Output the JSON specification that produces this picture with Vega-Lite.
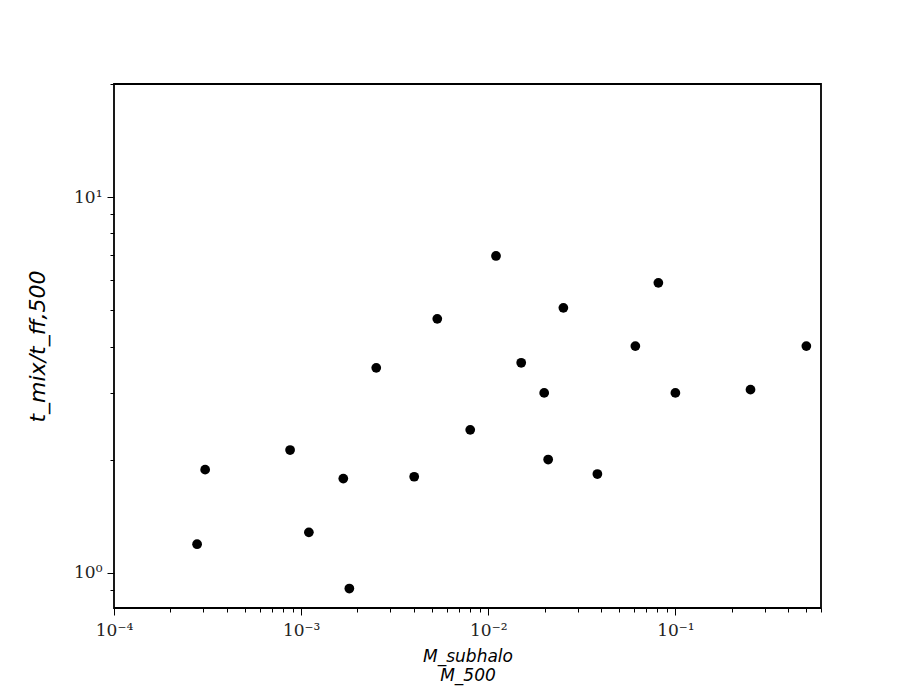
{
  "$schema": "https://vega.github.io/schema/vega-lite/v6.json",
  "width": 707,
  "height": 524,
  "autosize": {"type": "none"},
  "padding": {"left": 114, "top": 84, "right": 91, "bottom": 88},
  "background": "white",
  "config": {
    "view": {"stroke": "black", "strokeWidth": 1.8},
    "axis": {
      "domain": false,
      "grid": false,
      "tickColor": "black",
      "tickWidth": 1,
      "labelFont": "DejaVu Serif",
      "labelFontSize": 17,
      "labelColor": "#222",
      "titleFont": "DejaVu Sans",
      "titleFontWeight": "normal",
      "titleColor": "black"
    }
  },
  "data": {
    "values": [
      {"m": 0.000278, "t": 1.19},
      {"m": 0.000307, "t": 1.88},
      {"m": 0.000873, "t": 2.12},
      {"m": 0.00110, "t": 1.28},
      {"m": 0.00168, "t": 1.78},
      {"m": 0.00181, "t": 0.907},
      {"m": 0.00252, "t": 3.51},
      {"m": 0.00402, "t": 1.80},
      {"m": 0.00534, "t": 4.74},
      {"m": 0.00801, "t": 2.40},
      {"m": 0.0110, "t": 6.97},
      {"m": 0.0150, "t": 3.62},
      {"m": 0.0199, "t": 3.01},
      {"m": 0.0209, "t": 2.00},
      {"m": 0.0252, "t": 5.07},
      {"m": 0.0383, "t": 1.83},
      {"m": 0.0611, "t": 4.01},
      {"m": 0.0811, "t": 5.91},
      {"m": 0.100, "t": 3.01},
      {"m": 0.252, "t": 3.07},
      {"m": 0.501, "t": 4.01}
    ]
  },
  "mark": {"type": "point", "filled": true, "color": "black", "opacity": 1, "size": 95},
  "encoding": {
    "x": {
      "field": "m",
      "type": "quantitative",
      "scale": {"type": "log", "domain": [0.0001, 0.6], "nice": false},
      "axis": {
        "values": [0.0001, 0.0002, 0.0003, 0.0004, 0.0005, 0.0006, 0.0007, 0.0008, 0.0009,
                   0.001, 0.002, 0.003, 0.004, 0.005, 0.006, 0.007, 0.008, 0.009,
                   0.01, 0.02, 0.03, 0.04, 0.05, 0.06, 0.07, 0.08, 0.09,
                   0.1, 0.2, 0.3, 0.4, 0.5, 0.6],
        "labelExpr": "abs(datum.value-0.0001)<1e-9 ? '10⁻⁴' : abs(datum.value-0.001)<1e-8 ? '10⁻³' : abs(datum.value-0.01)<1e-7 ? '10⁻²' : abs(datum.value-0.1)<1e-6 ? '10⁻¹' : ''",
        "tickSize": {"condition": {"test": "abs(log(datum.value)/LN10 - round(log(datum.value)/LN10)) < 0.001", "value": 7}, "value": 4},
        "labelPadding": 7,
        "labelFlush": false,
        "labelOverlap": false,
        "title": ["M_subhalo", "M_500"],
        "titleFontSize": 17,
        "titleFontStyle": "italic",
        "titlePadding": 10
      }
    },
    "y": {
      "field": "t",
      "type": "quantitative",
      "scale": {"type": "log", "domain": [0.805, 20], "nice": false},
      "axis": {
        "values": [0.9, 1, 2, 3, 4, 5, 6, 7, 8, 9, 10, 20],
        "labelExpr": "datum.value == 1 ? '10⁰' : datum.value == 10 ? '10¹' : ''",
        "tickSize": {"condition": {"test": "datum.value == 1 || datum.value == 10", "value": 7}, "value": 4},
        "labelPadding": 5,
        "labelOverlap": false,
        "labelFlush": false,
        "title": "t_mix/t_ff,500",
        "titleFontSize": 22,
        "titleFontStyle": "italic",
        "titlePadding": 24
      }
    }
  }
}
